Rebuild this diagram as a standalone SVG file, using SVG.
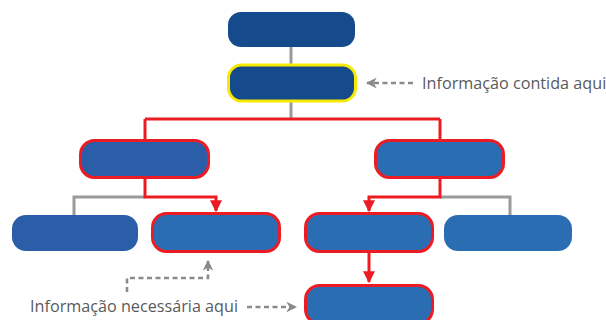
<svg xmlns="http://www.w3.org/2000/svg" width="606" height="320" viewBox="0 0 606 320">
<style>
.dark{fill:#154a8d}
.mid{fill:#2a5ea9}
.light{fill:#2b6db3}
.red{stroke:#ec1c24;stroke-width:3}
.yel{stroke:#f7ea00;stroke-width:3}
.gl{fill:none;stroke:#9a9a9a;stroke-width:3}
.rl{fill:none;stroke:#ec1c24;stroke-width:3}
.dash{fill:none;stroke:#8a8a8a;stroke-width:2.6;stroke-dasharray:5 3.5}
.lbl{font-family:"Open Sans","Noto Sans",sans-serif;font-size:16.2px;fill:#5a5a5a}
</style>
<defs>
<marker id="ra" viewBox="0 0 10 10" refX="9" refY="5" markerWidth="4" markerHeight="4" orient="auto" markerUnits="strokeWidth"><path d="M0,0 L10,5 L0,10 z" fill="#ec1c24"/></marker>
<marker id="ga" viewBox="0 0 10 10" refX="9" refY="5" markerWidth="4.2" markerHeight="4.2" orient="auto" markerUnits="strokeWidth"><path d="M0,0 L10,5 L0,10 L3,5 z" fill="#8a8a8a"/></marker>
</defs>
<g id="connectors">
<path class="gl" d="M291,47 V65 M291,102 V119"/>
<path class="gl" d="M145,197 H74 V215"/>
<path class="gl" d="M440,197 H510 V215"/>
<path class="rl" d="M145,119 H440 M145,119 V140 M440,119 V140"/>
<path class="rl" d="M145,178 V197 H216 V211" marker-end="url(#ra)"/>
<path class="rl" d="M440,178 V197 H369 V211" marker-end="url(#ra)"/>
<path class="rl" d="M369,252 V282" marker-end="url(#ra)"/>
<path class="dash" d="M413,83 H367" marker-end="url(#ga)"/>
<path class="dash" d="M127,292 V278 H208 V261" marker-end="url(#ga)"/>
<path class="dash" d="M247,307 H296" marker-end="url(#ga)"/>
</g>
<g id="n1"><rect class="dark" x="228" y="12" width="127" height="35" rx="13"/></g>
<g id="n2"><rect class="dark yel" x="228.5" y="65" width="127" height="36" rx="13"/></g>
<g id="n3"><rect class="mid red" x="80.5" y="140.5" width="128" height="37" rx="14"/></g>
<g id="n4"><rect class="light red" x="375.5" y="140.5" width="128" height="37" rx="14"/></g>
<g id="n5"><rect class="mid" x="12" y="215" width="126" height="36" rx="14"/></g>
<g id="n6"><rect class="light red" x="152.5" y="213.5" width="127" height="38" rx="14"/></g>
<g id="n7"><rect class="light red" x="305.5" y="213.5" width="127" height="38" rx="14"/></g>
<g id="n8"><rect class="light" x="444" y="215" width="128" height="36" rx="14"/></g>
<g id="n9"><rect class="light red" x="305.5" y="285.5" width="127" height="38" rx="14"/></g>
<g id="labels">
<text class="lbl" x="422" y="89">Informação contida aqui</text>
<text class="lbl" x="30" y="312">Informação necessária aqui</text>
</g>
</svg>
